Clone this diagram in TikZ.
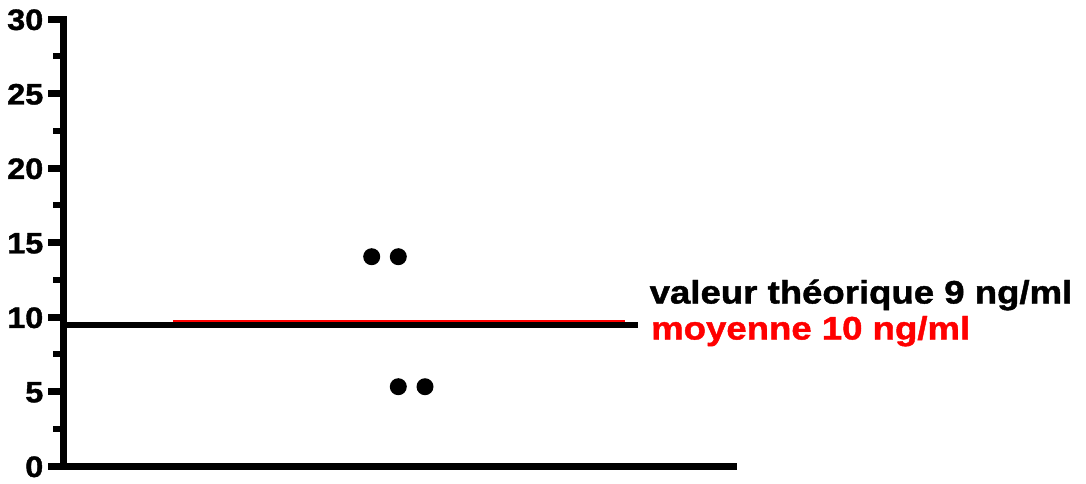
\documentclass[tikz,border=0pt]{standalone}
\usepackage{fontspec}
\setmainfont{Liberation Sans}[BoldFeatures={FakeBold=1.2}]
\definecolor{meanred}{RGB}{255,0,0}
\begin{document}
\begin{tikzpicture}[x=1pt,y=-1pt,
  axisline/.style={line width=7pt,line cap=rect},
  majortick/.style={line width=7pt},
  minortick/.style={line width=6pt},
  ticklabel/.style={anchor=east,inner sep=0pt,font=\fontsize{29.5}{29.5}\selectfont\bfseries},
  legendtext/.style={anchor=base west,inner sep=0pt,font=\fontsize{32.5}{32.5}\selectfont\bfseries},
  datapoint/.style={circle,fill=black,inner sep=0pt,minimum size=17pt}]
\useasboundingbox (0,0) rectangle (1086,483);
% axis end points
\coordinate (ytop) at (63.5,19);
\coordinate (origin) at (63.5,466);
\coordinate (xleft) at (48,466);
\coordinate (xright) at (737,466);
% axes
\draw[axisline] (ytop) -- (origin);
\draw[line width=7pt] (xleft) -- (xright);
% major ticks and labels
\foreach \v in {5,10,...,30}{
  \pgfmathsetmacro{\yy}{466-14.9*\v}
  \draw[majortick] (48,\yy) -- (63.5,\yy);
  \node[ticklabel] (lab\v) at (43.5,\yy+0.8) {\scalebox{1.1}[1]{\v}};
}
\node[ticklabel] (lab0) at (43.5,466.8) {\scalebox{1.1}[1]{0}};
% minor ticks
\foreach \v in {2.5,7.5,...,27.5}{
  \pgfmathsetmacro{\yy}{466-14.9*\v}
  \draw[minortick] (53,\yy) -- (63.5,\yy);
}
% mean line (red) and theoretical value (black)
\coordinate (redA) at (173,320.8);
\coordinate (redB) at (625,320.8);
\draw[meanred,line width=2.2pt] (redA) -- (redB);
\coordinate (blkA) at (63.5,325.3);
\coordinate (blkB) at (638,325.3);
\draw[line width=6.3pt] (blkA) -- (blkB);
% data points
\node[datapoint] (p1) at (371.7,256.7) {};
\node[datapoint] (p2) at (398.3,256.7) {};
\node[datapoint] (p3) at (398.3,386.7) {};
\node[datapoint] (p4) at (425,386.7) {};
% legend texts
\node[legendtext] (valeur) at (649.5,303.5) {\scalebox{1.125}[1]{valeur théorique 9 ng/ml}};
\node[legendtext,text=meanred] (moyenne) at (651,339.5) {\scalebox{1.125}[1]{moyenne 10 ng/ml}};
\end{tikzpicture}
\end{document}
